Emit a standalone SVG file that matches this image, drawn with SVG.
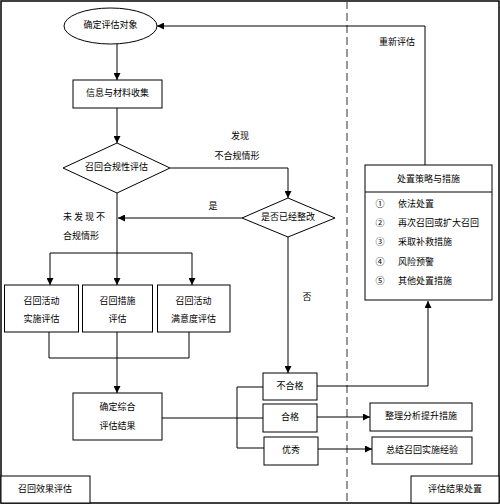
<svg xmlns="http://www.w3.org/2000/svg" width="500" height="504" viewBox="0 0 500 504">
<defs>
<marker id="arr" viewBox="0 0 10 10" refX="10" refY="5" markerWidth="7" markerHeight="7" markerUnits="userSpaceOnUse" orient="auto">
<path d="M0,0 L10,5 L0,10 z" fill="#000"/>
</marker>
<style>
.s{fill:#fff;stroke:#000;stroke-width:1}
.t{font-family:"Noto Sans CJK SC","Liberation Sans",sans-serif;font-size:9px;fill:#000;text-anchor:middle;dominant-baseline:middle}
.l{text-anchor:start}
.c{fill:none;stroke:#000;stroke-width:1}
.ca{fill:none;stroke:#000;stroke-width:1;marker-end:url(#arr)}
</style>
</defs>
<rect x="0" y="0" width="500" height="504" fill="#fff"/>
<rect x="1" y="1" width="498" height="502" fill="none" stroke="#000" stroke-width="1.5"/>
<line x1="347" y1="1" x2="347" y2="503" stroke="#333" stroke-width="1" stroke-dasharray="8,4"/>
<g id="connectors">
<line class="ca" x1="117" y1="44" x2="117" y2="80"/>
<line class="ca" x1="117" y1="108" x2="117" y2="143"/>
<polyline class="ca" points="170,168 288,168 288,198"/>
<line class="ca" x1="242" y1="218" x2="118" y2="218"/>
<line class="c" x1="117" y1="193" x2="117" y2="253"/>
<line class="c" x1="50" y1="253" x2="192" y2="253"/>
<line class="ca" x1="50" y1="253" x2="50" y2="285"/>
<line class="ca" x1="117" y1="253" x2="117" y2="285"/>
<line class="ca" x1="192" y1="253" x2="192" y2="285"/>
<polyline class="c" points="49,332 49,358 189,358 189,332"/>
<line class="ca" x1="117" y1="332" x2="117" y2="393"/>
<line class="c" x1="162" y1="418" x2="237" y2="418"/>
<polyline class="c" points="263,387 237,387 237,448 264,448"/>
<line class="c" x1="237" y1="418" x2="263" y2="418"/>
<line class="ca" x1="288" y1="237" x2="288" y2="373"/>
<polyline class="ca" points="317,386 428,386 428,301"/>
<polyline class="ca" points="425,165 425,26 157,26"/>
<line class="ca" x1="317" y1="417" x2="370" y2="417"/>
<line class="ca" x1="318" y1="449" x2="372" y2="449"/>
<text class="t" x="240" y="137">发现</text>
<text class="t" x="237" y="157">不合规情形</text>
<text class="t" x="213" y="207">是</text>
<text class="t l" x="63" y="218">未 发 现 不</text>
<text class="t l" x="63" y="237">合规情形</text>
<text class="t" x="307" y="298">否</text>
<text class="t" x="397" y="43">重新评估</text>
</g>
<g id="n1"><ellipse class="s" cx="110.5" cy="26" rx="46.5" ry="18"/><text class="t" x="110.5" y="26">确定评估对象</text></g>
<g id="n2"><rect class="s" x="73" y="80" width="89" height="28"/><text class="t" x="117.5" y="94">信息与材料收集</text></g>
<g id="n3"><polygon class="s" points="63,168 117,143 170,168 117,193"/><text class="t" x="116.5" y="168">召回合规性评估</text></g>
<g id="n4"><polygon class="s" points="242,218 288,198 335,218 288,237"/><text class="t" x="288" y="218">是否已经整改</text></g>
<g id="n5"><rect class="s" x="4.5" y="285" width="74" height="47"/><text class="t" x="41.5" y="302">召回活动</text><text class="t" x="41.5" y="320">实施评估</text></g>
<g id="n6"><rect class="s" x="82.5" y="285" width="70" height="47"/><text class="t" x="117.5" y="302">召回措施</text><text class="t" x="117.5" y="320">评估</text></g>
<g id="n7"><rect class="s" x="157.5" y="285" width="72.5" height="47"/><text class="t" x="193.5" y="302">召回活动</text><text class="t" x="193.5" y="320">满意度评估</text></g>
<g id="n8"><rect class="s" x="73" y="393" width="89" height="47"/><text class="t" x="117.5" y="408">确定综合</text><text class="t" x="117.5" y="427">评估结果</text></g>
<g id="n9"><rect class="s" x="263" y="373" width="54" height="27"/><text class="t" x="290" y="386.5">不合格</text></g>
<g id="n10"><rect class="s" x="263" y="404" width="54" height="28"/><text class="t" x="290" y="418">合格</text></g>
<g id="n11"><rect class="s" x="264" y="437" width="54" height="28"/><text class="t" x="291" y="451">优秀</text></g>
<g id="n12"><rect class="s" x="370" y="403" width="102" height="28"/><text class="t" x="421" y="417">整理分析提升措施</text></g>
<g id="n13"><rect class="s" x="372" y="437" width="100" height="27"/><text class="t" x="422" y="450.5">总结召回实施经验</text></g>
<g id="n14"><rect class="s" x="365" y="165" width="127" height="135"/><line class="c" x1="365" y1="192" x2="492" y2="192"/>
<text class="t" x="428.5" y="180">处置策略与措施</text>
<text class="t" x="380" y="205">①</text><text class="t l" x="398" y="205">依法处置</text>
<text class="t" x="380" y="224">②</text><text class="t l" x="398" y="224">再次召回或扩大召回</text>
<text class="t" x="380" y="243">③</text><text class="t l" x="398" y="243">采取补救措施</text>
<text class="t" x="380" y="263">④</text><text class="t l" x="398" y="263">风险预警</text>
<text class="t" x="380" y="282">⑤</text><text class="t l" x="398" y="282">其他处置措施</text>
</g>
<g id="n15"><rect class="s" x="1" y="476" width="89" height="27"/><text class="t" x="45" y="490">召回效果评估</text></g>
<g id="n16"><rect class="s" x="411" y="476" width="88" height="27"/><text class="t" x="455" y="489.5">评估结果处置</text></g>
</svg>
